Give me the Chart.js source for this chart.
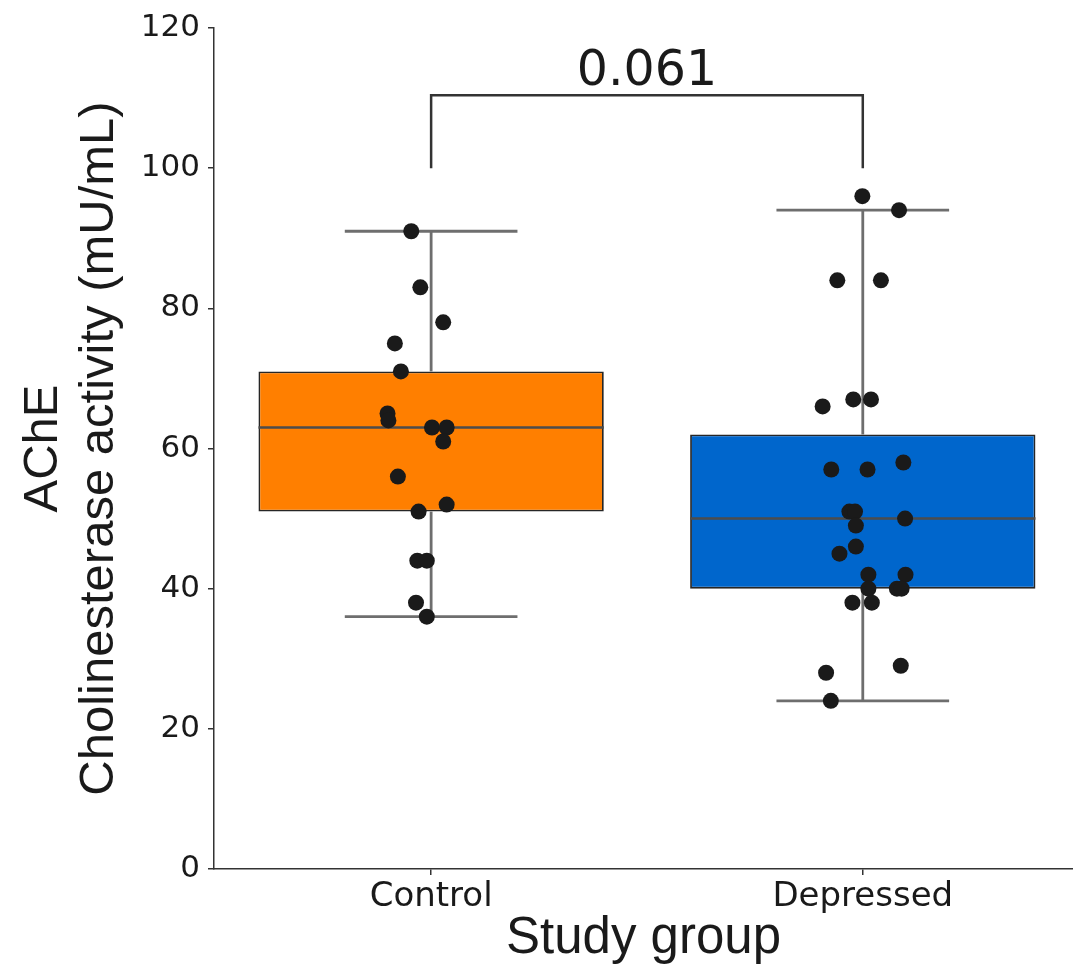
<!DOCTYPE html>
<html>
<head>
<meta charset="utf-8">
<script src="https://cdn.jsdelivr.net/npm/chart.js@4.4.1/dist/chart.umd.min.js"></script>
<style>
  html, body { margin: 0; padding: 0; background: #fff; overflow: hidden; }
  canvas { display: block; }
</style>
</head>
<body>
<canvas id="chart" width="1073" height="970"></canvas>
<script>
// ===== Datos =====
const groups = ['Control', 'Depressed'];

// Resumen de cada caja: bigote inferior, Q1, mediana, Q3, bigote superior
const whiskerLow = [36, 24];
const q1 = [51, 40];
const median = [63, 50];
const q3 = [71, 62];
const whiskerHigh = [91, 94];

// Observaciones individuales y su desplazamiento horizontal (jitter)
const controlValues = [91, 83, 78, 75, 71, 65, 64, 63, 63, 61, 56, 52, 51, 44, 44, 38, 36];
const controlJitter = [-0.046, -0.025, 0.028, -0.084, -0.070, -0.101, -0.099, 0.002, 0.036, 0.028, -0.077, 0.036, -0.029, -0.032, -0.010, -0.035, -0.010];
const depressedValues = [96, 94, 84, 84, 66, 67, 67, 57, 57, 58, 51, 51, 50, 49, 46, 45, 42, 42, 40, 40, 40, 38, 38, 28, 29, 24];
const depressedJitter = [-0.001, 0.084, -0.059, 0.042, -0.093, -0.022, 0.019, -0.073, 0.011, 0.094, -0.031, -0.018, 0.098, -0.016, -0.016, -0.054, 0.013, 0.099, 0.013, 0.079, 0.090, -0.024, 0.021, -0.085, 0.088, -0.074];

// Comparación entre grupos
const pValue = '0.061';
const bracketBase = 100;
const bracketTop = 110.4;

// ===== Estilos =====
const BOX_COLORS = ['#ff7f00', '#0066cc'];
const LINE_GRAY = '#6e6e6e';
const INK = '#1a1a1a';
const CAP_HALF = 0.2;
const BOX_HALF = 0.4;

const segment = (pts, color, width, order) => ({
    type: 'line', data: pts, borderColor: color, borderWidth: width,
    pointRadius: 0, fill: false, tension: 0, order,
    borderCapStyle: 'butt', borderJoinStyle: 'miter'
});

const datasets = [];

// puntos
[[controlValues, controlJitter], [depressedValues, depressedJitter]].forEach(([vals, jit], g) => {
    datasets.push({
        type: 'scatter',
        data: vals.map((v, i) => ({ x: g + jit[i], y: v })),
        backgroundColor: INK, borderWidth: 0, pointRadius: 8, order: 0
    });
});

// mediana, bigotes y topes
groups.forEach((_, g) => {
    datasets.push(segment([{ x: g - BOX_HALF, y: median[g] }, { x: g + BOX_HALF, y: median[g] }], '#4d4d4d', 2.5, 1));
    datasets.push(segment([{ x: g, y: whiskerLow[g] }, { x: g, y: q1[g] }], LINE_GRAY, 2.8, 2));
    datasets.push(segment([{ x: g, y: q3[g] }, { x: g, y: whiskerHigh[g] }], LINE_GRAY, 2.8, 2));
    datasets.push(segment([{ x: g - CAP_HALF, y: whiskerLow[g] }, { x: g + CAP_HALF, y: whiskerLow[g] }], LINE_GRAY, 2.8, 2));
    datasets.push(segment([{ x: g - CAP_HALF, y: whiskerHigh[g] }, { x: g + CAP_HALF, y: whiskerHigh[g] }], LINE_GRAY, 2.8, 2));
});

// cajas Q1-Q3 como barras flotantes
datasets.push({
    type: 'bar',
    data: groups.map((_, g) => ({ x: g, y: [q1[g], q3[g]] })),
    backgroundColor: BOX_COLORS, borderColor: '#262626', borderWidth: 1.8,
    borderSkipped: false, barPercentage: 1, categoryPercentage: 0.8, order: 3
});

// corchete de significancia
datasets.push(segment([
    { x: 0, y: bracketBase }, { x: 0, y: bracketTop },
    { x: 1, y: bracketTop }, { x: 1, y: bracketBase }
], '#333', 2.5, 2));

const pValueLabel = {
    id: 'pValueLabel',
    afterDatasetsDraw(chart) {
        const { ctx, scales: { x, y } } = chart;
        ctx.save();
        ctx.font = '49px "DejaVu Sans"';
        ctx.fillStyle = INK;
        ctx.textAlign = 'center';
        ctx.textBaseline = 'alphabetic';
        ctx.fillText(pValue, x.getPixelForValue(0.5), y.getPixelForValue(bracketTop) - 10);
        ctx.restore();
    }
};

const axisGrid = { display: true, drawOnChartArea: false, drawTicks: true, tickLength: 6, color: '#333', lineWidth: 1.5, offset: false };
const axisBorder = { display: true, color: '#333', width: 1.5 };

new Chart(document.getElementById('chart'), {
    type: 'scatter',
    data: { datasets },
    options: {
        responsive: false,
        animation: false,
        events: [],
        layout: { autoPadding: false, padding: { top: 28, left: 0, right: 0, bottom: 0 } },
        plugins: { legend: { display: false }, tooltip: { enabled: false } },
        scales: {
            x: {
                type: 'linear', min: -0.503, max: 1.487, offset: false,
                afterBuildTicks: s => { s.ticks = groups.map((_, i) => ({ value: i })); },
                afterFit: s => { s.height = 101; },
                ticks: {
                    callback: v => groups[v] ?? '',
                    font: { family: 'DejaVu Sans', size: 34 }, color: INK,
                    padding: 2, autoSkip: false, maxRotation: 0
                },
                grid: axisGrid,
                border: axisBorder,
                title: {
                    display: true, text: 'Study group', color: INK,
                    font: { family: 'Liberation Sans', size: 51 }, padding: { top: 0, bottom: 0 }
                }
            },
            y: {
                type: 'linear', min: 0, max: 120,
                afterFit: s => { s.width = 214; },
                ticks: { stepSize: 20, font: { family: 'DejaVu Sans', size: 31 }, color: INK, padding: 8 },
                grid: axisGrid,
                border: axisBorder,
                title: {
                    display: true, text: ['AChE', 'Cholinesterase activity (mU/mL)'], color: INK,
                    font: { family: 'Liberation Sans', size: 49, lineHeight: 1.15 }, padding: { top: 15, bottom: 0 }
                }
            }
        }
    },
    plugins: [pValueLabel]
});
</script>
</body>
</html>
